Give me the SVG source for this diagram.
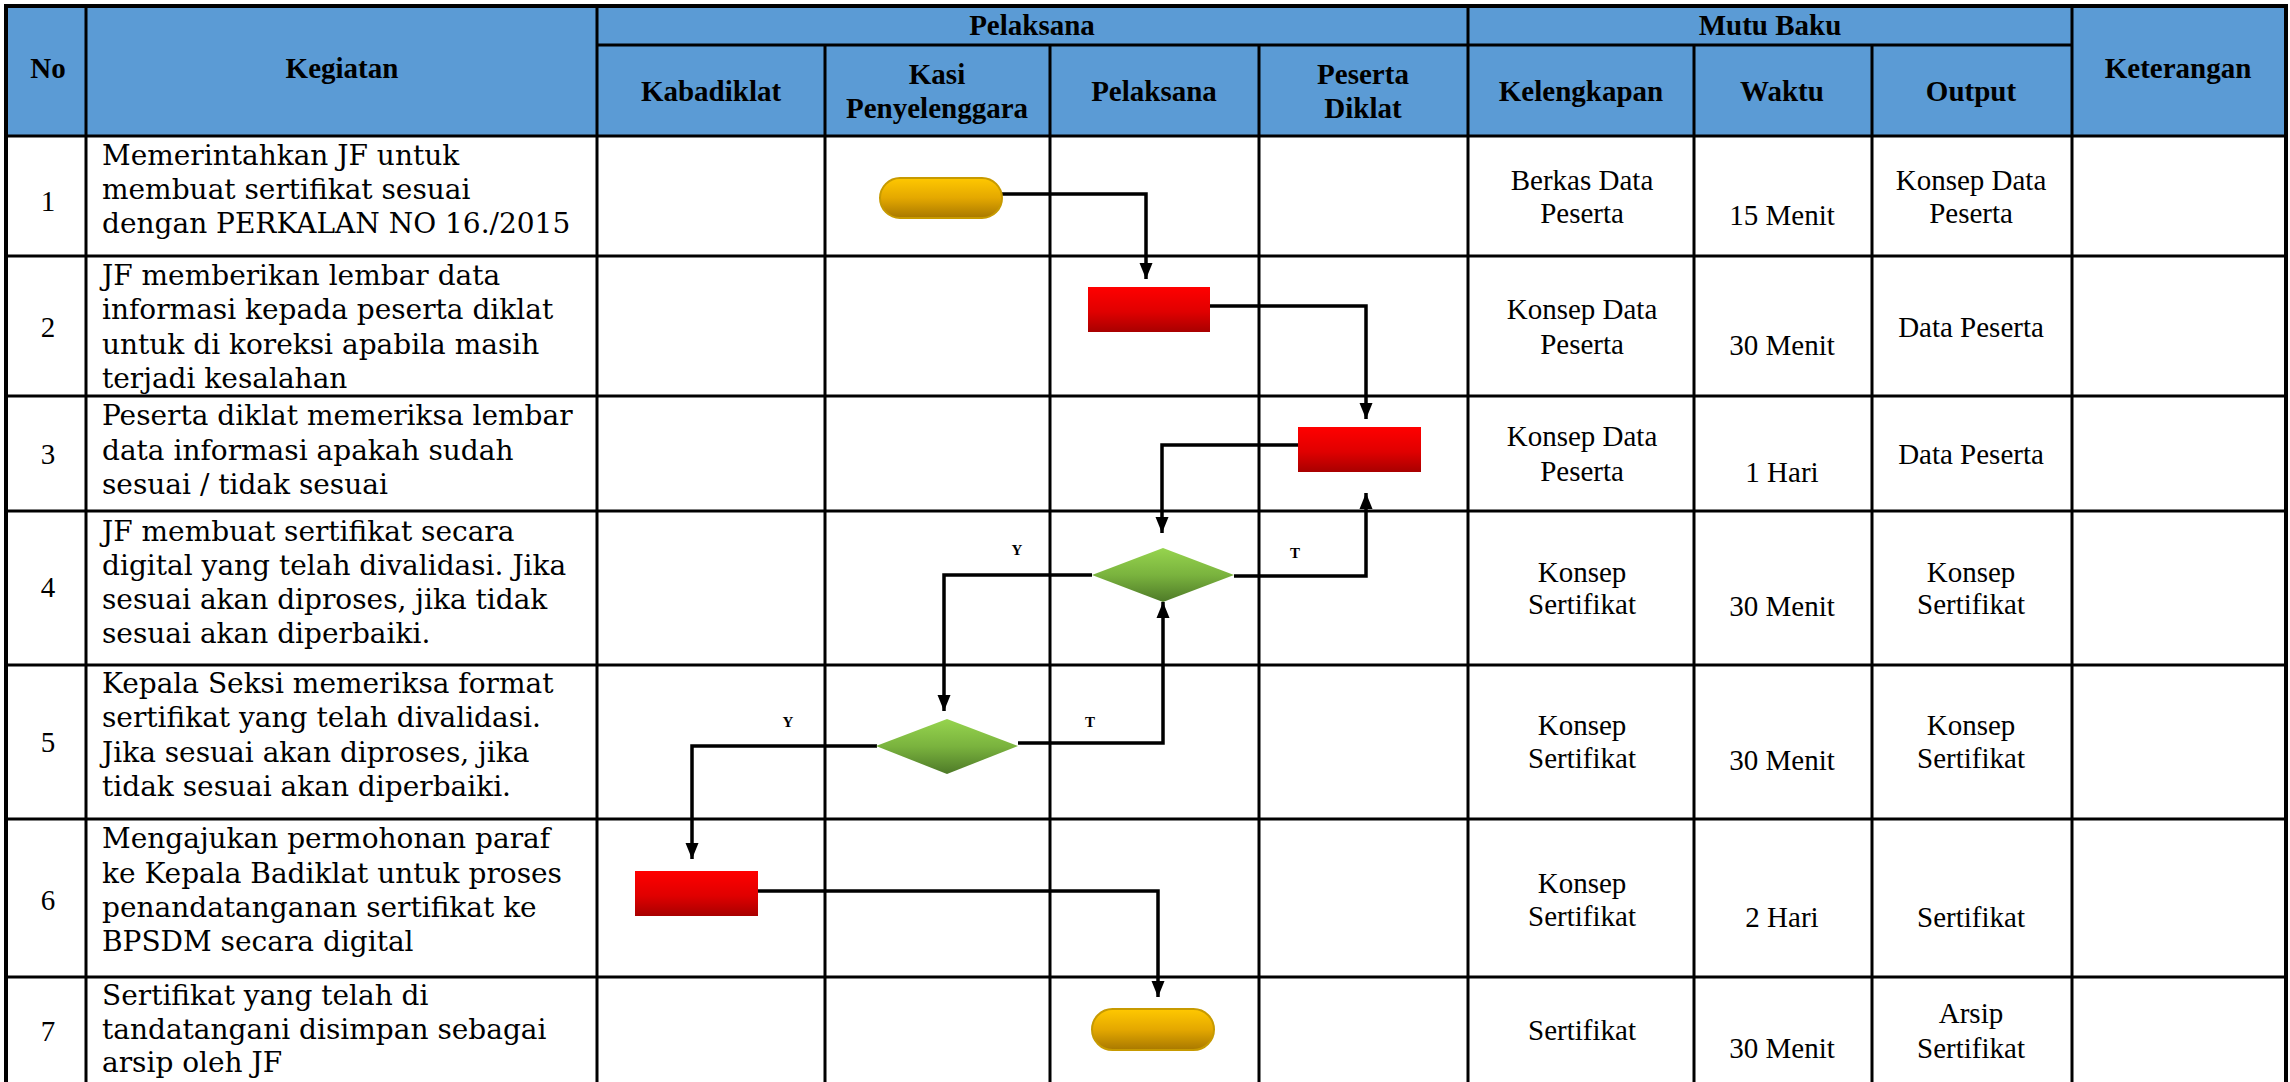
<svg xmlns="http://www.w3.org/2000/svg" width="2290" height="1082" viewBox="0 0 2290 1082">
<style>
.grid{stroke:#000;stroke-width:3;fill:none}
.outer{stroke:#000;stroke-width:4;fill:none}
.hd{font-family:"Liberation Serif",serif;font-weight:bold;font-size:29px;text-anchor:middle;fill:#000}
.num{font-family:"Liberation Serif",serif;font-size:29px;text-anchor:middle;fill:#000}
.keg{font-family:"DejaVu Serif",serif;font-size:28px;fill:#000}
.cell{font-family:"Liberation Serif",serif;font-size:29px;text-anchor:middle;fill:#000}
.yt{font-family:"Liberation Serif",serif;font-weight:bold;font-size:15px;text-anchor:middle;fill:#000}
.conn{stroke:#000;stroke-width:3.5;fill:none;marker-end:url(#arr)}
</style>
<defs>
<linearGradient id="gRed" x1="0" y1="0" x2="0" y2="1"><stop offset="0" stop-color="#FF0000"/><stop offset="0.55" stop-color="#E00000"/><stop offset="1" stop-color="#A80000"/></linearGradient>
<linearGradient id="gGold" x1="0" y1="0" x2="0" y2="1"><stop offset="0" stop-color="#FFC800"/><stop offset="0.5" stop-color="#E4A800"/><stop offset="1" stop-color="#A87800"/></linearGradient>
<linearGradient id="gGreen" x1="0" y1="0" x2="0" y2="1"><stop offset="0" stop-color="#96D44E"/><stop offset="0.5" stop-color="#7AB33E"/><stop offset="1" stop-color="#4E7A28"/></linearGradient>
<marker id="arr" markerUnits="userSpaceOnUse" markerWidth="16" markerHeight="16" viewBox="0 0 16 16" refX="16" refY="8" orient="auto"><path d="M0,1.5 L16,8 L0,14.5 z" fill="#000"/></marker>
</defs>
<rect x="0" y="0" width="2290" height="1082" fill="#fff"/>
<g id="header">
<rect x="6" y="6" width="2281" height="130" fill="#5B9BD5"/>
<text class="hd" x="48" y="78">No</text>
<text class="hd" x="342" y="78">Kegiatan</text>
<text class="hd" x="1032" y="35">Pelaksana</text>
<text class="hd" x="1770" y="35">Mutu Baku</text>
<text class="hd" x="2178" y="78">Keterangan</text>
<text class="hd" x="711" y="101">Kabadiklat</text>
<text class="hd" x="937" y="84">Kasi</text>
<text class="hd" x="937" y="118">Penyelenggara</text>
<text class="hd" x="1154" y="101">Pelaksana</text>
<text class="hd" x="1363" y="84">Peserta</text>
<text class="hd" x="1363" y="118">Diklat</text>
<text class="hd" x="1581" y="101">Kelengkapan</text>
<text class="hd" x="1782" y="101">Waktu</text>
<text class="hd" x="1971" y="101">Output</text>
</g>
<g id="grid">
<path class="grid" d="M597,45 H2072 M6,136 H2287 M6,256 H2287 M6,396 H2287 M6,511 H2287 M6,665 H2287 M6,819 H2287 M6,977 H2287"/>
<path class="grid" d="M86,6 V1082 M597,6 V1082 M825,45 V1082 M1050,45 V1082 M1259,45 V1082 M1468,6 V1082 M1694,45 V1082 M1872,45 V1082 M2072,6 V1082"/>
<path class="outer" d="M6,1082 V6 H2286 V1082"/>
</g>
<g id="col-no">
<text class="num" x="48" y="211">1</text>
<text class="num" x="48" y="337">2</text>
<text class="num" x="48" y="464">3</text>
<text class="num" x="48" y="597">4</text>
<text class="num" x="48" y="752">5</text>
<text class="num" x="48" y="910">6</text>
<text class="num" x="48" y="1041">7</text>
</g>
<g id="col-kegiatan">
<text class="keg" x="102" y="165">Memerintahkan JF untuk</text>
<text class="keg" x="102" y="199">membuat sertifikat sesuai</text>
<text class="keg" x="102" y="233">dengan PERKALAN NO 16./2015</text>
<text class="keg" x="102" y="285">JF memberikan lembar data</text>
<text class="keg" x="102" y="319">informasi kepada peserta diklat</text>
<text class="keg" x="102" y="354">untuk di koreksi apabila masih</text>
<text class="keg" x="102" y="388">terjadi kesalahan</text>
<text class="keg" x="102" y="425">Peserta diklat memeriksa lembar</text>
<text class="keg" x="102" y="460">data informasi apakah sudah</text>
<text class="keg" x="102" y="494">sesuai / tidak sesuai</text>
<text class="keg" x="102" y="541">JF membuat sertifikat secara</text>
<text class="keg" x="102" y="575">digital yang telah divalidasi. Jika</text>
<text class="keg" x="102" y="609">sesuai akan diproses, jika tidak</text>
<text class="keg" x="102" y="643">sesuai akan diperbaiki.</text>
<text class="keg" x="102" y="693">Kepala Seksi memeriksa format</text>
<text class="keg" x="102" y="727">sertifikat yang telah divalidasi.</text>
<text class="keg" x="102" y="762">Jika sesuai akan diproses, jika</text>
<text class="keg" x="102" y="796">tidak sesuai akan diperbaiki.</text>
<text class="keg" x="102" y="848">Mengajukan permohonan paraf</text>
<text class="keg" x="102" y="883">ke Kepala Badiklat untuk proses</text>
<text class="keg" x="102" y="917">penandatanganan sertifikat ke</text>
<text class="keg" x="102" y="951">BPSDM secara digital</text>
<text class="keg" x="102" y="1005">Sertifikat yang telah di</text>
<text class="keg" x="102" y="1039">tandatangani disimpan sebagai</text>
<text class="keg" x="102" y="1072">arsip oleh JF</text>
</g>
<g id="col-mutu">
<text class="cell" x="1582" y="190">Berkas Data</text>
<text class="cell" x="1582" y="223">Peserta</text>
<text class="cell" x="1782" y="225">15 Menit</text>
<text class="cell" x="1971" y="190">Konsep Data</text>
<text class="cell" x="1971" y="223">Peserta</text>

<text class="cell" x="1582" y="319">Konsep Data</text>
<text class="cell" x="1582" y="354">Peserta</text>
<text class="cell" x="1782" y="355">30 Menit</text>
<text class="cell" x="1971" y="337">Data Peserta</text>

<text class="cell" x="1582" y="446">Konsep Data</text>
<text class="cell" x="1582" y="481">Peserta</text>
<text class="cell" x="1782" y="482">1 Hari</text>
<text class="cell" x="1971" y="464">Data Peserta</text>

<text class="cell" x="1582" y="582">Konsep</text>
<text class="cell" x="1582" y="614">Sertifikat</text>
<text class="cell" x="1782" y="616">30 Menit</text>
<text class="cell" x="1971" y="582">Konsep</text>
<text class="cell" x="1971" y="614">Sertifikat</text>

<text class="cell" x="1582" y="735">Konsep</text>
<text class="cell" x="1582" y="768">Sertifikat</text>
<text class="cell" x="1782" y="770">30 Menit</text>
<text class="cell" x="1971" y="735">Konsep</text>
<text class="cell" x="1971" y="768">Sertifikat</text>

<text class="cell" x="1582" y="893">Konsep</text>
<text class="cell" x="1582" y="926">Sertifikat</text>
<text class="cell" x="1782" y="927">2 Hari</text>
<text class="cell" x="1971" y="927">Sertifikat</text>

<text class="cell" x="1582" y="1040">Sertifikat</text>
<text class="cell" x="1782" y="1058">30 Menit</text>
<text class="cell" x="1971" y="1023">Arsip</text>
<text class="cell" x="1971" y="1058">Sertifikat</text>
</g>
<g id="connectors">
<path class="conn" d="M1002,194 H1146 V279"/>
<path class="conn" d="M1210,306 H1366 V419"/>
<path class="conn" d="M1298,445 H1162 V533"/>
<path class="conn" d="M1234,576 H1366 V493"/>
<path class="conn" d="M1092,575 H944 V711"/>
<path class="conn" d="M1018,743 H1163 V602"/>
<path class="conn" d="M877,746 H692 V859"/>
<path class="conn" d="M758,891 H1158 V997"/>
<text class="yt" x="1017" y="555">Y</text>
<text class="yt" x="1295" y="558">T</text>
<text class="yt" x="788" y="727">Y</text>
<text class="yt" x="1090" y="727">T</text>
</g>
<g id="start">
<rect x="880" y="178" width="122" height="40" rx="20" ry="20" fill="url(#gGold)" stroke="#C79A00" stroke-width="2"/>
</g>
<g id="proc-2">
<rect x="1088" y="287" width="122" height="45" fill="url(#gRed)"/>
</g>
<g id="proc-3">
<rect x="1298" y="427" width="123" height="45" fill="url(#gRed)"/>
</g>
<g id="decision-4">
<polygon points="1163,548 1234,575 1163,602 1092,575" fill="url(#gGreen)"/>
</g>
<g id="decision-5">
<polygon points="947,719 1018,746 947,774 876,746" fill="url(#gGreen)"/>
</g>
<g id="proc-6">
<rect x="635" y="871" width="123" height="45" fill="url(#gRed)"/>
</g>
<g id="end">
<rect x="1092" y="1009" width="122" height="41" rx="20.5" ry="20.5" fill="url(#gGold)" stroke="#C79A00" stroke-width="2"/>
</g>
</svg>
